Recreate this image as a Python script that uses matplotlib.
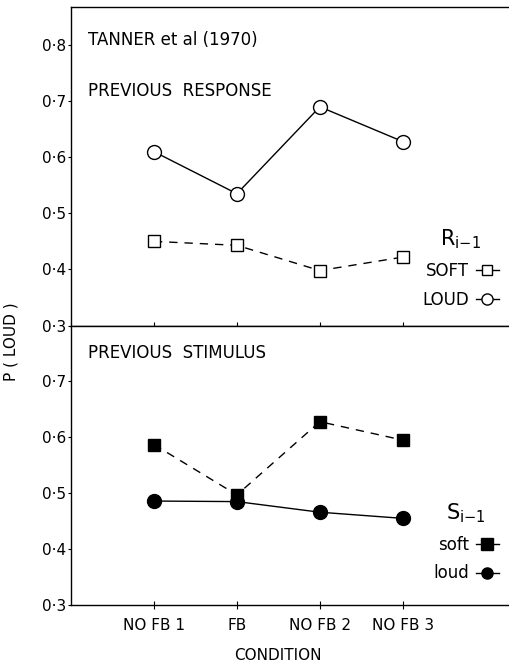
import matplotlib
matplotlib.use("Agg")
import matplotlib.pyplot as plt
from matplotlib.lines import Line2D

plt.rcParams['font.family'] = ['Liberation Sans Narrow', 'DejaVu Sans']
plt.rcParams['mathtext.fontset'] = 'custom'
plt.rcParams['mathtext.rm'] = 'Liberation Sans Narrow'
plt.rcParams['mathtext.it'] = 'Liberation Sans Narrow'

conditions = ["NO FB 1", "FB", "NO FB 2", "NO FB 3"]
resp_loud = [0.61, 0.535, 0.69, 0.628]
resp_soft = [0.45, 0.443, 0.398, 0.422]
stim_soft = [0.587, 0.497, 0.628, 0.595]
stim_loud = [0.486, 0.485, 0.466, 0.455]

top_yticks = [0.3, 0.4, 0.5, 0.6, 0.7, 0.8]
bot_yticks = [0.3, 0.4, 0.5, 0.6, 0.7]

x = list(range(1, len(conditions) + 1))
dash = (0, (6, 5))

fig = plt.figure(figsize=(5.09, 6.65), dpi=100)
ax1 = fig.add_axes([0.1395, 0.5105, 0.8605, 0.479])
ax2 = fig.add_axes([0.1395, 0.0902, 0.8605, 0.4203])


def fmt(v):
    return f"{v:.1f}".replace(".", "\u00b7")


for ax, yt, ylim in [(ax1, top_yticks, (0.3, 0.868)), (ax2, bot_yticks, (0.3, 0.80))]:
    ax.set_xlim(0, 5.28)
    ax.set_ylim(*ylim)
    ax.set_yticks(yt)
    ax.set_yticklabels([fmt(v) for v in yt], fontsize=11)
    ax.set_xticks(x)
    ax.spines['right'].set_visible(False)
    for s in ax.spines.values():
        s.set_linewidth(1.0)
    ax.tick_params(axis='y', direction='out', length=2.5, width=0.8, pad=1)
    ax.tick_params(axis='x', direction='inout', length=6, width=0.8)

ax1.set_xticklabels([])
ax2.set_xticklabels(conditions, fontsize=11)
ax2.tick_params(axis='x', pad=6)

# previous response panel
ax1.plot(x, resp_loud, color='black', lw=1.0, marker='o', ms=10,
         mfc='white', mec='black', mew=1.0)
ax1.plot(x, resp_soft, color='black', lw=1.0, ls=dash, marker='s', ms=9,
         mfc='white', mec='black', mew=1.0)
ax1.text(0.2, 0.81, "TANNER et al (1970)", fontsize=12, va='center')
ax1.text(0.2, 0.718, "PREVIOUS  RESPONSE", fontsize=12, va='center')

h_soft = Line2D([], [], color='black', lw=1.0, marker='s', ms=7, mfc='white', mec='black')
h_loud = Line2D([], [], color='black', lw=1.0, marker='o', ms=8, mfc='white', mec='black')
leg1 = ax1.legend([h_soft, h_loud], ["SOFT", "LOUD"], title="$\\mathrm{R_{i{-}1}}$",
                  frameon=False, markerfirst=False, handlelength=1.4,
                  handletextpad=0.4, fontsize=12, title_fontsize=15,
                  loc='lower right', bbox_to_anchor=(1.0, 0.02),
                  labelspacing=0.65, borderaxespad=0.2)
leg1._legend_box.align = 'center'

# previous stimulus panel
ax2.plot(x, stim_loud, color='black', lw=1.0, marker='o', ms=10,
         mfc='black', mec='black')
ax2.plot(x, stim_soft, color='black', lw=1.0, ls=dash, marker='s', ms=9,
         mfc='black', mec='black')
ax2.text(0.2, 0.75, "PREVIOUS  STIMULUS", fontsize=12, va='center')

h_s = Line2D([], [], color='black', lw=1.0, marker='s', ms=8, mfc='black', mec='black')
h_l = Line2D([], [], color='black', lw=1.0, marker='o', ms=8, mfc='black', mec='black')
leg2 = ax2.legend([h_s, h_l], ["soft", "loud"], title="$\\mathrm{S_{i{-}1}}$",
                  frameon=False, markerfirst=False, handlelength=1.4,
                  handletextpad=0.4, fontsize=12, title_fontsize=15,
                  loc='lower right', bbox_to_anchor=(1.0, 0.045),
                  labelspacing=0.65, borderaxespad=0.2)
leg2._legend_box.align = 'center'

fig.text(0.022, 0.486, "P ( LOUD )", rotation=90, fontsize=11, va='center', ha='center')
fig.text(0.546, 0.015, "CONDITION", fontsize=11, ha='center', va='center')

fig.savefig("out.png", dpi=100)
